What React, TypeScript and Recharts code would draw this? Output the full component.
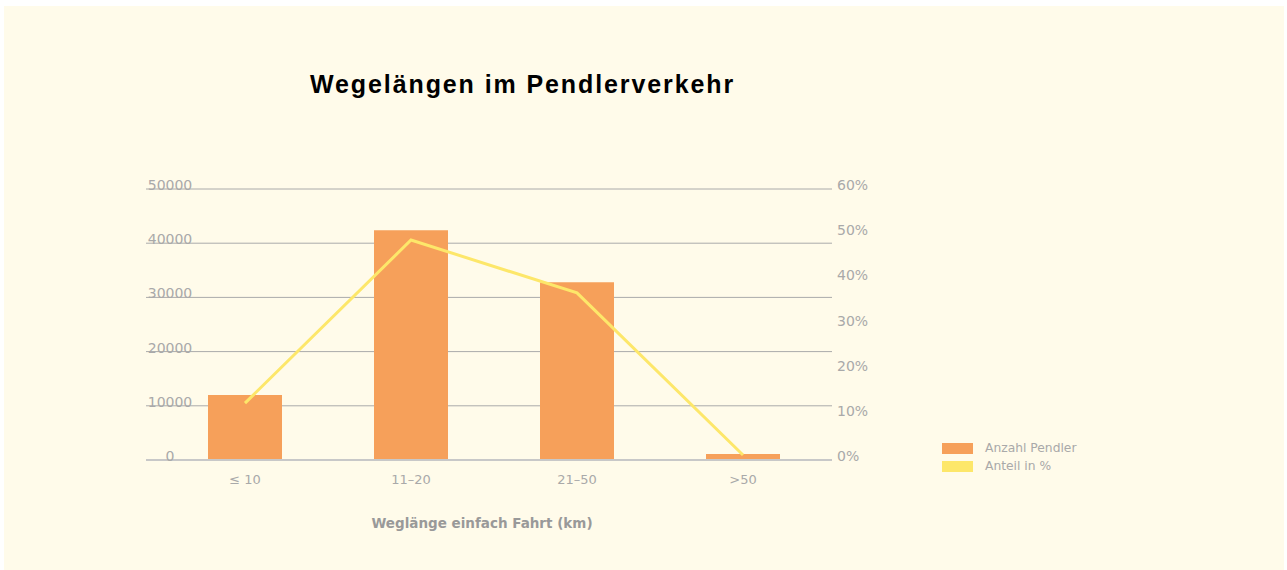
import { ComposedChart, Bar, Line, XAxis, YAxis, CartesianGrid } from 'recharts';

// Wegelängen im Pendlerverkehr
const categories = ['≤ 10', '11–20', '21–50', '>50'];
const pendler = [12000, 42400, 32800, 1100];
const anteil = [12.6, 48.7, 37.0, 1.1];
const leftTicks = [0, 10000, 20000, 30000, 40000, 50000];
const rightTicks = [0, 10, 20, 30, 40, 50, 60];
const legendItems = ['Anzahl Pendler', 'Anteil in %'];

const data = categories.map((name, i) => ({ name, pendler: pendler[i], anteil: anteil[i] }));

const BAR = '#f6a05a';
const LINE = '#fde76a';
const TXT = '#a9a9a9';
const FONT = '"DejaVu Sans", Verdana, sans-serif';

// left labels sit on the gridlines, centred inside the plot
const LeftTick = (props: any) => {
    const { y, payload } = props;
    return (
        <text x={166} y={y + 1} fill={TXT} fontSize={14} fontFamily={FONT} textAnchor="middle">
            {payload.value}
        </text>
    );
};

const RightTick = (props: any) => {
    const { x, y, payload } = props;
    return (
        <text x={x} y={y} dy={1} fill={TXT} fontSize={14} fontFamily={FONT} textAnchor="start">
            {payload.value}%
        </text>
    );
};

export default function App() {
    return (
        <div style={{ position: 'absolute', left: 4, top: 6, width: 1280, height: 564, background: '#fffbea' }}>
            <div style={{ position: 'absolute', left: 306, top: 66, fontFamily: '"Liberation Sans", Arial, sans-serif', fontWeight: 'bold', fontSize: 25, letterSpacing: 1.9, lineHeight: 1, color: '#000' }}>
                Wegelängen im Pendlerverkehr
            </div>
            <ComposedChart width={1280} height={564} data={data} margin={{ top: 183, left: 142, right: 392, bottom: 80 }}>
                <CartesianGrid horizontal vertical={false} stroke="#aaaaaa" yAxisId="left" />
                <XAxis
                    dataKey="name"
                    tickLine={false}
                    axisLine={{ stroke: '#c8c8c8', strokeWidth: 2 }}
                    tickMargin={9}
                    padding={{ left: 16, right: 6 }}
                    tick={{ fill: TXT, fontSize: 13, fontFamily: FONT }}
                />
                <YAxis yAxisId="left" width={1} mirror domain={[0, 50000]} ticks={leftTicks} axisLine={false} tickLine={false} tick={<LeftTick />} />
                <YAxis yAxisId="right" orientation="right" width={60} domain={[0, 60]} ticks={rightTicks} axisLine={false} tickLine={false} tickSize={3} tickMargin={2} tick={<RightTick />} />
                <Bar yAxisId="left" dataKey="pendler" fill={BAR} barSize={74} isAnimationActive={false} />
                <Line yAxisId="right" dataKey="anteil" stroke={LINE} strokeWidth={3} dot={false} type="linear" isAnimationActive={false} />
            </ComposedChart>
            <div style={{ position: 'absolute', left: 938, top: 433, fontFamily: FONT, fontSize: 12.3, color: TXT }}>
                {legendItems.map((label, i) => (
                    <div key={label} style={{ display: 'flex', alignItems: 'center', height: 18 }}>
                        <span style={{ width: 31, height: 11, background: i === 0 ? BAR : LINE, display: 'inline-block', marginRight: 12 }} />
                        <span>{label}</span>
                    </div>
                ))}
            </div>
            <div style={{ position: 'absolute', left: 278, width: 400, top: 509, textAlign: 'center', fontFamily: FONT, fontWeight: 'bold', fontSize: 13.5, color: '#999' }}>
                Weglänge einfach Fahrt (km)
            </div>
        </div>
    );
}
